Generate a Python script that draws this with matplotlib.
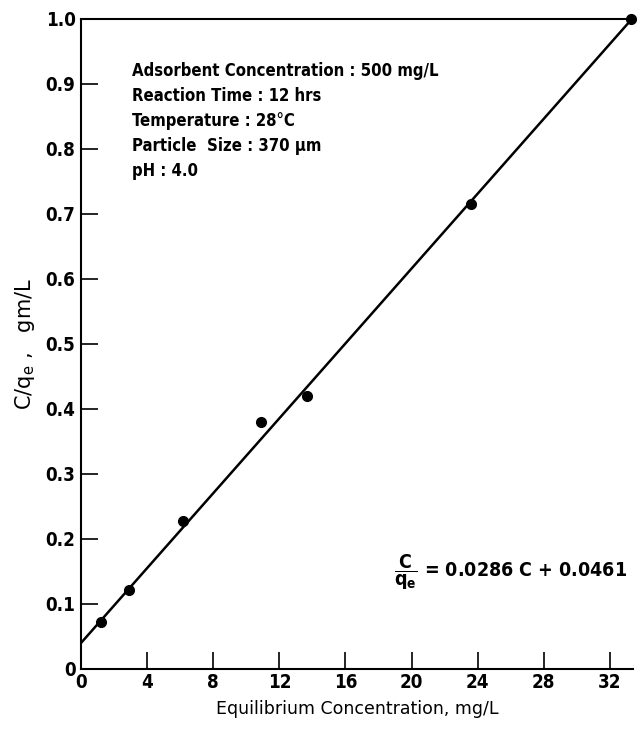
import matplotlib
matplotlib.use("Agg")
import matplotlib.pyplot as plt
import numpy as np

# Data
conc = [1.2, 2.9, 6.2, 10.9, 13.7, 23.6, 33.3]
c_over_q = [0.072, 0.122, 0.228, 0.380, 0.420, 0.715, 1.000]
# fitted line as drawn in the picture
line_slope = 0.0288
line_intercept = 0.040

x_ticks = [0, 4, 8, 12, 16, 20, 24, 28, 32]
y_ticks = [0, 0.1, 0.2, 0.3, 0.4, 0.5, 0.6, 0.7, 0.8, 0.9, 1.0]
y_tick_labels = ["0", "0.1", "0.2", "0.3", "0.4", "0.5", "0.6", "0.7", "0.8", "0.9", "1.0"]

info_lines = [
    "Adsorbent Concentration : 500 mg/L",
    "Reaction Time : 12 hrs",
    "Temperature : 28\u00b0C",
    "Particle  Size : 370 \u03bcm",
    "pH : 4.0",
]
equation = r"$\dfrac{\mathrm{C}}{\mathrm{q_e}}$ = 0.0286 C + 0.0461"
x_label = "Equilibrium Concentration, mg/L"
y_label = r"C/q$_\mathregular{e}$ ,   gm/L"

plt.rcParams['font.family'] = ['DejaVu Sans']
plt.rcParams['font.weight'] = 'bold'
plt.rcParams['font.stretch'] = 'condensed'
plt.rcParams['mathtext.fontset'] = 'custom'
plt.rcParams['mathtext.rm'] = 'DejaVu Sans:bold'
plt.rcParams['mathtext.it'] = 'DejaVu Sans:bold'
plt.rcParams['mathtext.bf'] = 'DejaVu Sans:bold'

fig = plt.figure(figsize=(6.41, 7.30), dpi=100)
ax = fig.add_axes([0.1264, 0.0836, 0.8611, 0.8904])

xmax = 33.4
ax.set_xlim(0, xmax)
ax.set_ylim(0, 1.0)

xl = np.array([0, xmax])
ax.plot(xl, line_slope * xl + line_intercept, color='black', lw=1.8, solid_capstyle='butt')
ax.plot(conc, c_over_q, 'o', color='black', ms=7, clip_on=False, zorder=5)

ax.spines['right'].set_visible(False)
for s in ['left', 'bottom', 'top']:
    ax.spines[s].set_linewidth(1.5)

ax.set_xticks(x_ticks)
ax.set_xticklabels([str(t) for t in x_ticks])
ax.set_yticks(y_ticks)
ax.set_yticklabels(y_tick_labels)
ax.tick_params(axis='both', direction='in', length=12, width=1.2, labelsize=13.5, pad=4)
ax.tick_params(axis='x', top=False, pad=3)
ax.tick_params(axis='y', right=False)

ax.set_xlabel(x_label, fontsize=12.5, fontweight='medium', fontstretch='normal', labelpad=6)
ax.set_ylabel(y_label, fontsize=15, fontweight='medium', fontstretch='normal', labelpad=6)

y0 = 0.913
for i, line in enumerate(info_lines):
    ax.text(0.092, y0 - i * 0.0385, line, transform=ax.transAxes, fontsize=12,
            ha='left', va='baseline')

ax.text(0.99, 0.148, equation, transform=ax.transAxes,
        fontsize=14, ha='right', va='center')

fig.savefig("out.png", dpi=100)
